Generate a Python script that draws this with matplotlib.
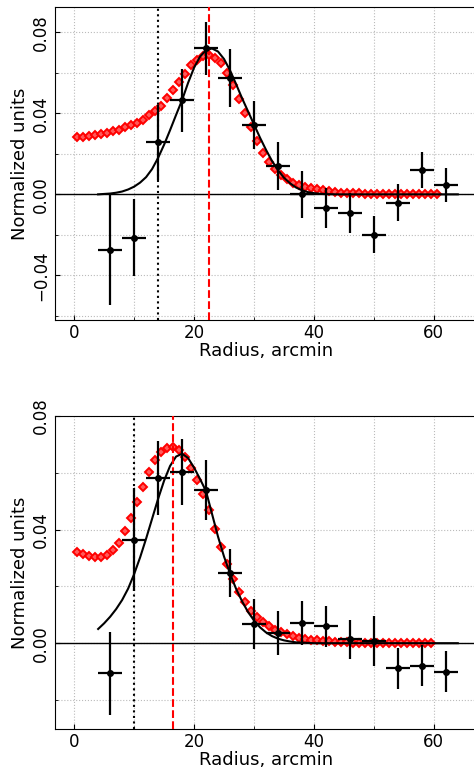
import numpy as np
import matplotlib
matplotlib.use("Agg")
import matplotlib.pyplot as plt
from matplotlib.ticker import MultipleLocator

# measured profile points (radius bins, arcmin)
r_pts = [6, 10, 14, 18, 22, 26, 30, 34, 38, 42, 46, 50, 54, 58, 62]
r_err = 2

top_y = [-0.0275, -0.0215, 0.0258, 0.0465, 0.0720, 0.0575, 0.0343, 0.0139, 0.0000,
         -0.0066, -0.0094, -0.0199, -0.0041, 0.0122, 0.0046]
top_yerr = [0.0270, 0.0190, 0.0185, 0.0155, 0.0130, 0.0143, 0.0120, 0.0117, 0.0117,
            0.0099, 0.0099, 0.0092, 0.0093, 0.0089, 0.0084]

bot_y = [-0.0106, 0.0365, 0.0583, 0.0603, 0.0539, 0.0247, 0.0068, 0.0035, 0.0071,
         0.0059, 0.0014, 0.0006, -0.0088, -0.0079, -0.0100]
bot_yerr = [0.0147, 0.0182, 0.0130, 0.0117, 0.0105, 0.0085, 0.0087, 0.0078, 0.0078,
            0.0072, 0.0069, 0.0088, 0.0072, 0.0072, 0.0073]

# red model (diamonds)
top_red = [0.0281, 0.0284, 0.0288, 0.0293, 0.0298, 0.0305, 0.0312, 0.0320, 0.0330, 0.0341,
           0.0354, 0.0369, 0.0390, 0.0410, 0.0437, 0.0474, 0.0513, 0.0553, 0.0596, 0.0636,
           0.0663, 0.0681, 0.0688, 0.0675, 0.0646, 0.0598, 0.0540, 0.0473, 0.0400, 0.0331,
           0.0262, 0.0204, 0.0160, 0.0123, 0.0095, 0.0074, 0.0058, 0.0047, 0.0038, 0.0030,
           0.0024, 0.0019, 0.0015, 0.0012, 0.0009, 0.0007, 0.0006, 0.0005, 0.0004, 0.0003,
           0.0003, 0.0003, 0.0002, 0.0002, 0.0002, 0.0002, 0.0002, 0.0002, 0.0002, 0.0002,
           0.0002]
bot_red = [0.0320, 0.0313, 0.0308, 0.0304, 0.0304, 0.0311, 0.0327, 0.0353, 0.0394, 0.0441,
           0.0497, 0.0551, 0.0603, 0.0645, 0.0673, 0.0687, 0.0691, 0.0680, 0.0654, 0.0618,
           0.0575, 0.0526, 0.0469, 0.0403, 0.0340, 0.0278, 0.0225, 0.0180, 0.0145, 0.0114,
           0.0091, 0.0074, 0.0060, 0.0048, 0.0039, 0.0032, 0.0025, 0.0020, 0.0016, 0.0012,
           0.0010, 0.0008, 0.0006, 0.0005, 0.0004, 0.0003, 0.0002, 0.0002, 0.0002, 0.0002,
           0.0002, 0.0002, 0.0002, 0.0002, 0.0002, 0.0002, 0.0002, 0.0002, 0.0002, 0.0002]
top_red_r = np.arange(len(top_red)) + 0.5
bot_red_r = np.arange(len(bot_red)) + 0.5

# black model curve
top_fit_r = list(range(4, 43)) + [44, 64]
top_fit = [0.0, 0.0002, 0.0004, 0.0008, 0.0014, 0.0024, 0.0038, 0.0058, 0.0085, 0.0125,
           0.0180, 0.0245, 0.0317, 0.0392, 0.0465, 0.0550, 0.0625, 0.0680, 0.0712, 0.0720,
           0.0705, 0.0668, 0.0612, 0.0545, 0.0475, 0.0410, 0.0345, 0.0280, 0.0220, 0.0165,
           0.0120, 0.0082, 0.0055, 0.0034, 0.0020, 0.0011, 0.0006, 0.0003, 0.0001, 0.0, 0.0]
bot_fit_r = list(range(4, 39)) + [40, 64]
bot_fit = [0.0050, 0.0070, 0.0093, 0.0120, 0.0152, 0.0192, 0.0243, 0.0302, 0.0368, 0.0438,
           0.0508, 0.0572, 0.0624, 0.0657, 0.0667, 0.0652, 0.0618, 0.0578, 0.0535, 0.0455,
           0.0375, 0.0305, 0.0245, 0.0192, 0.0148, 0.0110, 0.0080, 0.0056, 0.0038, 0.0025,
           0.0016, 0.0010, 0.0006, 0.0003, 0.0002, 0.0, 0.0]

top_vlines = (14, 22.5)   # black dotted, red dashed
bot_vlines = (10, 16.5)

fig = plt.figure(figsize=(4.74, 7.71), dpi=100)
ax1 = fig.add_axes([0.116, 0.585, 0.8903, 0.406])
ax2 = fig.add_axes([0.116, 0.0545, 0.8903, 0.406])

panels = [
    (ax1, top_y, top_yerr, top_red_r, top_red, top_fit_r, top_fit, top_vlines, (-0.062, 0.0925)),
    (ax2, bot_y, bot_yerr, bot_red_r, bot_red, bot_fit_r, bot_fit, bot_vlines, (-0.0302, 0.08)),
]

for ax, y, yerr, rr, red, fr, fit, vl, ylim in panels:
    ax.axhline(0, color="black", lw=1, zorder=2)
    ax.plot(rr, red, ls="none", marker="D", ms=4.2, mfc="#ff5a5a", mec="red",
            mew=1.4, zorder=3)
    ax.plot(fr, fit, color="black", lw=1.5, zorder=4)
    ax.errorbar(r_pts, y, xerr=r_err, yerr=yerr, fmt="o", color="black", ms=4,
                elinewidth=1.6, capsize=0, zorder=5)
    ax.axvline(vl[0], color="black", ls=":", lw=1.5, zorder=4)
    ax.axvline(vl[1], color="red", ls="--", lw=1.5, zorder=4)

    ax.set_xlim(-3.2, 67.2)
    ax.set_ylim(*ylim)
    ax.xaxis.set_major_locator(MultipleLocator(20))
    ax.xaxis.set_minor_locator(MultipleLocator(10))
    ax.yaxis.set_major_locator(MultipleLocator(0.04))
    ax.yaxis.set_minor_locator(MultipleLocator(0.02))
    ax.yaxis.set_major_formatter(plt.FuncFormatter(lambda v, p: f"{v:.2f}".replace("-", "\u2212")))
    ax.grid(True, which="both", ls=":", color="#bbbbbb", lw=0.8)
    ax.set_axisbelow(True)
    ax.tick_params(which="both", direction="in", labelsize=12)
    ax.tick_params(axis="x", pad=3)
    ax.tick_params(axis="y", labelrotation=90)
    for lab in ax.get_yticklabels():
        lab.set_va("center")
    ax.set_xlabel("Radius, arcmin", fontsize=13, labelpad=0)
    ax.set_ylabel("Normalized units", fontsize=13, labelpad=2)

fig.savefig("out.png", dpi=100)
